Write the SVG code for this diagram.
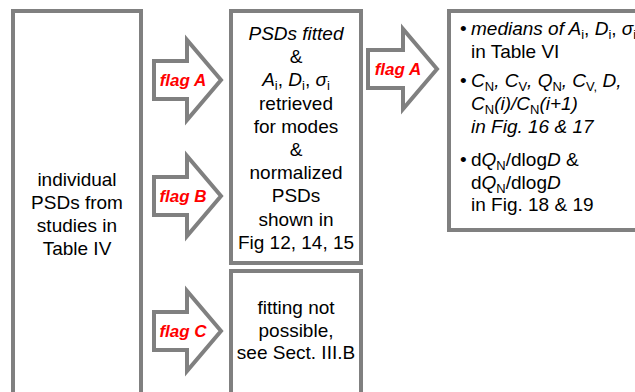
<svg xmlns="http://www.w3.org/2000/svg" width="635" height="392" viewBox="0 0 635 392">
<style>
.box{fill:#ffffff;stroke:#808080;stroke-width:4}
.arrow{fill:#ffffff;stroke:#808080;stroke-width:4;stroke-linejoin:miter;stroke-miterlimit:10}
text{font-family:"Liberation Sans",Arial,sans-serif;font-size:19px;fill:#000000}
.c{text-anchor:middle}
.flag{font-size:17px;font-weight:bold;font-style:italic;fill:#ff0000;text-anchor:middle}
.it{font-style:italic}
.sub{font-size:13px;font-style:normal}
</style>
<rect width="635" height="392" fill="#ffffff"/>
<g id="connectors">
<g id="arrowA1">
<polygon class="arrow" points="154,61 187,61 187,40 221,80 187,120 187,99 154,99"/>
<text class="flag" x="183" y="86">flag A</text>
</g>
<g id="arrowB">
<polygon class="arrow" points="154,177 187,177 187,156 221,196 187,236 187,215 154,215"/>
<text class="flag" x="183" y="202">flag B</text>
</g>
<g id="arrowC">
<polygon class="arrow" points="154,312 187,312 187,291 221,331 187,371 187,350 154,350"/>
<text class="flag" x="183" y="337">flag C</text>
</g>
<g id="arrowA2">
<polygon class="arrow" points="368,50 403,50 403,29 437,69 403,109 403,88 368,88"/>
<text class="flag" x="398" y="75">flag A</text>
</g>
</g>
<g id="source">
<rect class="box" x="13" y="11" width="128" height="400"/>
<text class="c" x="77" y="186">individual</text>
<text class="c" x="77" y="209">PSDs from</text>
<text class="c" x="77" y="232">studies in</text>
<text class="c" x="77" y="255">Table IV</text>
</g>
<g id="fitted">
<rect class="box" x="231" y="11" width="130" height="252"/>
<text class="c it" x="296" y="40">PSDs fitted</text>
<text class="c" x="296" y="63">&amp;</text>
<text class="c" x="296" y="86"><tspan class="it">A</tspan><tspan class="sub" dy="4">i</tspan><tspan dy="-4">, </tspan><tspan class="it">D</tspan><tspan class="sub" dy="4">i</tspan><tspan dy="-4">, </tspan><tspan class="it">σ</tspan><tspan class="sub" dy="4">i</tspan></text>
<text class="c" x="296" y="110">retrieved</text>
<text class="c" x="296" y="133">for modes</text>
<text class="c" x="296" y="156">&amp;</text>
<text class="c" x="296" y="179">normalized</text>
<text class="c" x="296" y="202">PSDs</text>
<text class="c" x="296" y="226">shown in</text>
<text class="c" x="296" y="249">Fig 12, 14, 15</text>
</g>
<g id="notfitted">
<rect class="box" x="231" y="271" width="130" height="200"/>
<text class="c" x="296" y="314">fitting not</text>
<text class="c" x="296" y="337">possible,</text>
<text class="c" x="296" y="359">see Sect. III.B</text>
</g>
<g id="results">
<rect class="box" x="449" y="11" width="200" height="219"/>
<text x="460" y="35">•</text>
<text x="471" y="35"><tspan class="it">medians of A</tspan><tspan class="sub" dy="4">i</tspan><tspan dy="-4">, </tspan><tspan class="it">D</tspan><tspan class="sub" dy="4">i</tspan><tspan dy="-4">, </tspan><tspan class="it">σ</tspan><tspan class="sub" dy="4">i</tspan></text>
<text x="471" y="58">in Table VI</text>
<text x="460" y="87">•</text>
<text x="471" y="87" class="it">C<tspan class="sub" dy="4">N</tspan><tspan dy="-4">, C</tspan><tspan class="sub" dy="4">V</tspan><tspan dy="-4">, Q</tspan><tspan class="sub" dy="4">N</tspan><tspan dy="-4">, C</tspan><tspan class="sub" dy="4">V,</tspan><tspan dy="-4"> D,</tspan></text>
<text x="471" y="110" class="it">C<tspan class="sub" dy="4">N</tspan><tspan dy="-4">(i)/C</tspan><tspan class="sub" dy="4">N</tspan><tspan dy="-4">(i+1)</tspan></text>
<text x="471" y="133" class="it">in Fig. 16 &amp; 17</text>
<text x="460" y="166">•</text>
<text x="471" y="166">d<tspan class="it">Q</tspan><tspan class="sub" dy="4">N</tspan><tspan dy="-4">/dlog</tspan><tspan class="it">D</tspan> &amp;</text>
<text x="471" y="189">d<tspan class="it">Q</tspan><tspan class="sub" dy="4">N</tspan><tspan dy="-4">/dlog</tspan><tspan class="it">D</tspan></text>
<text x="471" y="211">in Fig. 18 &amp; 19</text>
</g>
</svg>
